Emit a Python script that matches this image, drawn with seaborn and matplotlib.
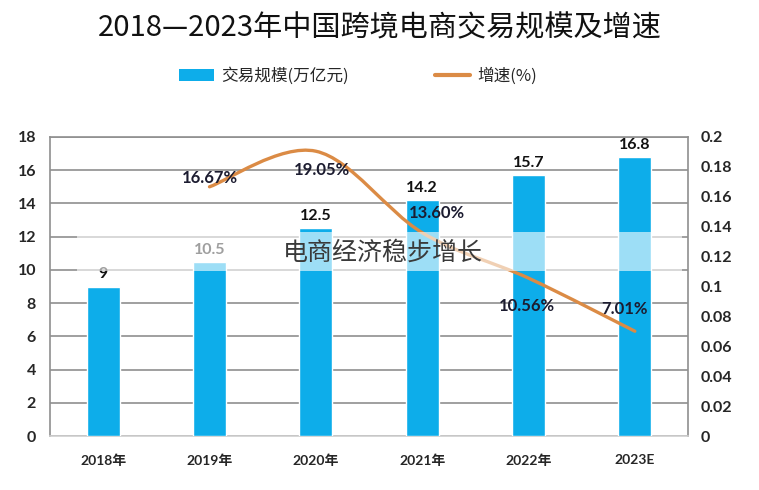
import numpy as np
import pandas as pd
import matplotlib
matplotlib.use("Agg")
import matplotlib.pyplot as plt
import seaborn as sns
from matplotlib.path import Path
from matplotlib.patches import PathPatch, Patch, Rectangle
from matplotlib.lines import Line2D

# data
years = ["2018年", "2019年", "2020年", "2021年", "2022年", "2023E"]
scale = [9, 10.5, 12.5, 14.2, 15.7, 16.8]          # 交易规模 (万亿元)
growth_years = ["2019年", "2020年", "2021年", "2022年", "2023E"]
growth = [0.1667, 0.1905, 0.1360, 0.1056, 0.0701]  # 增速
growth_labels = ["16.67%", "19.05%", "13.60%", "10.56%", "7.01%"]
left_ticks = [0, 2, 4, 6, 8, 10, 12, 14, 16, 18]
right_ticks = [0, 0.02, 0.04, 0.06, 0.08, 0.1, 0.12, 0.14, 0.16, 0.18, 0.2]
right_tick_labels = ["0", "0.02", "0.04", "0.06", "0.08", "0.1", "0.12", "0.14", "0.16", "0.18", "0.2"]

BAR = "#0DADEA"
LINE = "#DB8B45"
GRID = "#8f8f8f"

sns.set_style("white")
plt.rcParams["font.family"] = ["Lato", "Noto Sans CJK SC", "DejaVu Sans"]

df = pd.DataFrame({"year": years, "scale": scale})

fig = plt.figure(figsize=(7.59, 4.90), dpi=100)
ax = fig.add_axes([50 / 759, 54 / 490, 638 / 759, 299 / 490])

sns.barplot(data=df, x="year", y="scale", color=BAR, width=0.31,
            saturation=1, ax=ax, zorder=3)
ax.set_xlim(-0.5, 5.5)
ax.set_ylim(0, 18)
ax.set_yticks(left_ticks)
ax.yaxis.grid(True, color=GRID, lw=1.2, zorder=0)
ax.set_axisbelow(True)
ax.set_xlabel("")
ax.set_ylabel("")
for s in ["left", "right", "top"]:
    ax.spines[s].set_color(GRID)
    ax.spines[s].set_linewidth(1.2)
ax.spines["bottom"].set_color("#cfcfcf")
ax.spines["bottom"].set_linewidth(1.2)
ax.tick_params(axis="y", length=0, pad=10, labelsize=11.5)
ax.tick_params(axis="x", length=0, pad=13, labelsize=10)
for t in ax.get_yticklabels() + ax.get_xticklabels():
    t.set_fontweight("bold")

# bar value labels
for i, v in enumerate(scale):
    lbl = f"{v:g}"
    ax.annotate(lbl, (i, v), xytext=(0, 5), textcoords="offset pixels",
                ha="center", va="bottom", fontsize=11.5, fontweight="bold",
                color="#111111", zorder=5)

# growth line on the secondary axis, smoothed like an Excel curve
ax2 = ax.twinx()
ax2.set_ylim(0, 0.2)
ax2.set_yticks(right_ticks)
ax2.set_yticklabels(right_tick_labels)
ax2.tick_params(axis="y", length=0, pad=9, labelsize=11.5)
for t in ax2.get_yticklabels():
    t.set_fontweight("bold")
for s in ax2.spines.values():
    s.set_visible(False)

gx = [years.index(y) for y in growth_years]
pts = np.column_stack([gx, growth])
ext = np.vstack([pts[0], pts, pts[-1]])
verts = [tuple(pts[0])]
codes = [Path.MOVETO]
for k in range(len(pts) - 1):
    p0, p1, p2, p3 = ext[k], ext[k + 1], ext[k + 2], ext[k + 3]
    c1 = p1 + (p2 - p0) / 6
    c2 = p2 - (p3 - p1) / 6
    verts += [tuple(c1), tuple(c2), tuple(p2)]
    codes += [Path.CURVE4] * 3
ax2.add_patch(PathPatch(Path(verts, codes), fill=False, edgecolor=LINE,
                        lw=2.4, capstyle="round", zorder=4))

offsets = [(0, 9), (6, -19), (15, 20), (-2, -28), (-10, 22)]
for x, y, lbl, (dx, dy) in zip(gx, growth, growth_labels, offsets):
    ax2.annotate(lbl, (x, y), xytext=(dx, dy), textcoords="offset pixels",
                 ha="center", va="center", fontsize=12, fontweight="bold",
                 color="#1c1c30", zorder=6)

# title and legend
fig.text(0.5, 1 - 28 / 490, "2018—2023年中国跨境电商交易规模及增速",
         ha="center", va="center", fontsize=21, color="#111111",
         family=["Noto Sans CJK SC", "DejaVu Sans"])
handles = [Patch(facecolor=BAR, edgecolor="none"),
           Line2D([0], [0], color=LINE, lw=3)]
fig.legend(handles, ["交易规模(万亿元)", "增速(%)"], loc="center",
           bbox_to_anchor=(358 / 759, 1 - 76 / 490), ncol=2, frameon=False,
           prop={"family": ["Noto Sans CJK SC"], "size": 12},
           handlelength=2.1, handleheight=0.8, handletextpad=0.4,
           columnspacing=5.2)

# translucent banner with overlay caption
band = Rectangle((77 / 759, 1 - 271 / 490), (682 - 77) / 759, 39 / 490,
                 transform=fig.transFigure, facecolor="white", alpha=0.6,
                 edgecolor="none", zorder=10)
fig.add_artist(band)
fig.text(383 / 759, 1 - 253 / 490, "电商经济稳步增长", ha="center", va="center",
         fontsize=18, fontweight="light", color="#3a3a3a", zorder=11,
         family=["Noto Sans CJK SC", "DejaVu Sans"])

fig.savefig("out.png", dpi=100)
